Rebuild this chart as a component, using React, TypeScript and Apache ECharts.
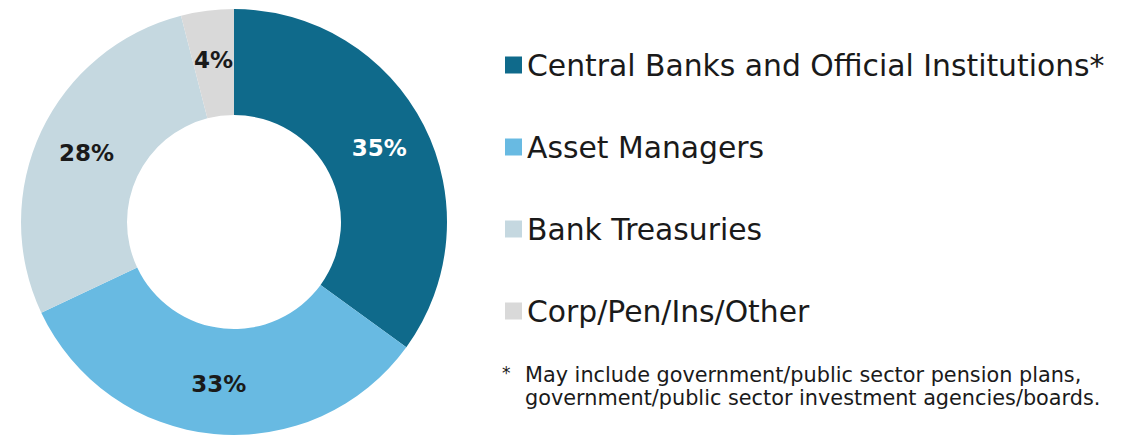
import React, { useEffect, useRef } from "react";
import * as echarts from "echarts";

const categories = [
  "Central Banks and Official Institutions*",
  "Asset Managers",
  "Bank Treasuries",
  "Corp/Pen/Ins/Other",
];
const shares = [35, 33, 28, 4];
const colors = ["#0f6a8b", "#68bae2", "#c5d8e0", "#d9d9d9"];
const labelColors = ["#ffffff", "#1a1a1a", "#1a1a1a", "#1a1a1a"];
const footnoteLines = [
  "May include government/public sector pension plans,",
  "government/public sector investment agencies/boards.",
];

const FONT = "'DejaVu Sans', sans-serif";

export default function App() {
  const ref = useRef<HTMLDivElement>(null);
  useEffect(() => {
    if (!ref.current) return;
    const chart = echarts.init(ref.current, undefined, { renderer: "svg" });
    chart.setOption({
      animation: false,
      backgroundColor: "#ffffff",
      legend: {
        orient: "vertical",
        left: 500,
        top: 45,
        itemWidth: 17,
        itemHeight: 17,
        itemGap: 52,
        icon: "rect",
        selectedMode: false,
        data: categories,
        textStyle: {
          fontFamily: FONT,
          fontSize: 29.8,
          lineHeight: 30,
          color: "#1a1a1a",
        },
      },
      graphic: [
        {
          type: "text",
          left: 502,
          top: 364,
          style: { text: "*", font: `17px ${FONT}`, fill: "#1a1a1a" },
        },
        {
          type: "text",
          left: 525,
          top: 363,
          style: {
            text: footnoteLines.join("\n"),
            font: `20.8px ${FONT}`,
            lineHeight: 23,
            fill: "#1a1a1a",
          },
        },
      ],
      series: [
        {
          type: "pie",
          center: [234, 222],
          radius: [107, 213],
          startAngle: 90,
          clockwise: true,
          avoidLabelOverlap: false,
          label: {
            show: true,
            position: "inside",
            formatter: "{c}%",
            fontFamily: FONT,
            fontWeight: "bold",
            fontSize: 23,
          },
          labelLine: { show: false },
          emphasis: { disabled: true },
          data: categories.map((name, i) => ({
            name,
            value: shares[i],
            itemStyle: { color: colors[i] },
            label: { color: labelColors[i] },
          })),
        },
      ],
    });
    return () => chart.dispose();
  }, []);
  return (
    <div
      ref={ref}
      style={{ position: "fixed", left: 0, top: 0, width: 1132, height: 437 }}
    />
  );
}
